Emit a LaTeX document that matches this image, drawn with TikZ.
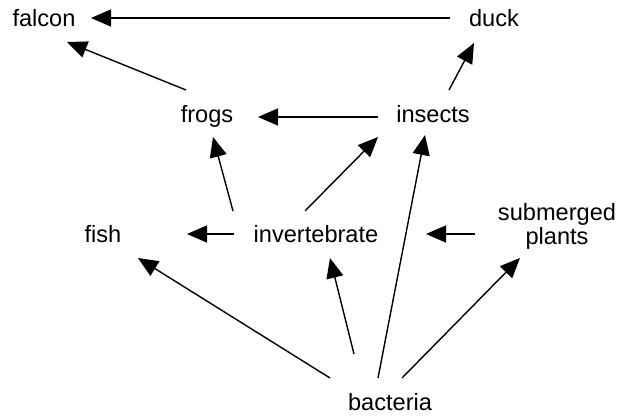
\documentclass[tikz,border=0pt]{standalone}
\usepackage{fontspec}
\setmainfont{Liberation Sans}
\usetikzlibrary{arrows.meta}
\begin{document}
\begin{tikzpicture}[x=1pt,y=-1pt,
  lbl/.style={anchor=base,inner sep=0pt,font=\fontsize{23.6}{24}\selectfont},
  arr/.style={line width=1.4pt,-{Triangle[length=20pt,width=17pt]}}]
\useasboundingbox (0,0) rectangle (626,415);
% nodes
\node[lbl] (falcon) at (44,27) {falcon};
\node[lbl] (duck) at (494,27) {duck};
\node[lbl] (frogs) at (207,122) {frogs};
\node[lbl] (insects) at (433,122) {insects};
\node[lbl] (fish) at (103,242) {fish};
\node[lbl] (invert) at (316,242) {invertebrate};
\node[lbl,align=center] (plants) at (557,244) {submerged\\plants};
\node[lbl] (bacteria) at (390,410) {bacteria};
% endpoints
\coordinate (duckS) at (450,18);   \coordinate (falconE) at (91,18);
\coordinate (frogsN) at (186,90);  \coordinate (falconS) at (67,42);
\coordinate (insectsN) at (449,90);\coordinate (duckB) at (474,43);
\coordinate (insectsW) at (378,117);\coordinate (frogsE) at (258,117);
\coordinate (invW) at (234,234);   \coordinate (fishE) at (187,234);
\coordinate (invNW) at (233,211);  \coordinate (frogsB) at (213,137);
\coordinate (invNE) at (305,211);  \coordinate (insectsB) at (378,137);
\coordinate (plantsW) at (475,234);\coordinate (invE) at (426,234);
\coordinate (bacA) at (330,378);   \coordinate (fishB) at (138,258);
\coordinate (bacB) at (354,354);   \coordinate (invB) at (330,258);
\coordinate (bacC) at (378,378);   \coordinate (insectsC) at (425,135);
\coordinate (bacD) at (402,378);   \coordinate (plantsB) at (520,258);
% connectors
\draw[arr] (duckS) -- (falconE);
\draw[arr] (frogsN) -- (falconS);
\draw[arr] (insectsN) -- (duckB);
\draw[arr] (insectsW) -- (frogsE);
\draw[arr] (invW) -- (fishE);
\draw[arr] (invNW) -- (frogsB);
\draw[arr] (invNE) -- (insectsB);
\draw[arr] (plantsW) -- (invE);
\draw[arr] (bacA) -- (fishB);
\draw[arr] (bacB) -- (invB);
\draw[arr] (bacC) -- (insectsC);
\draw[arr] (bacD) -- (plantsB);
\end{tikzpicture}
\end{document}
